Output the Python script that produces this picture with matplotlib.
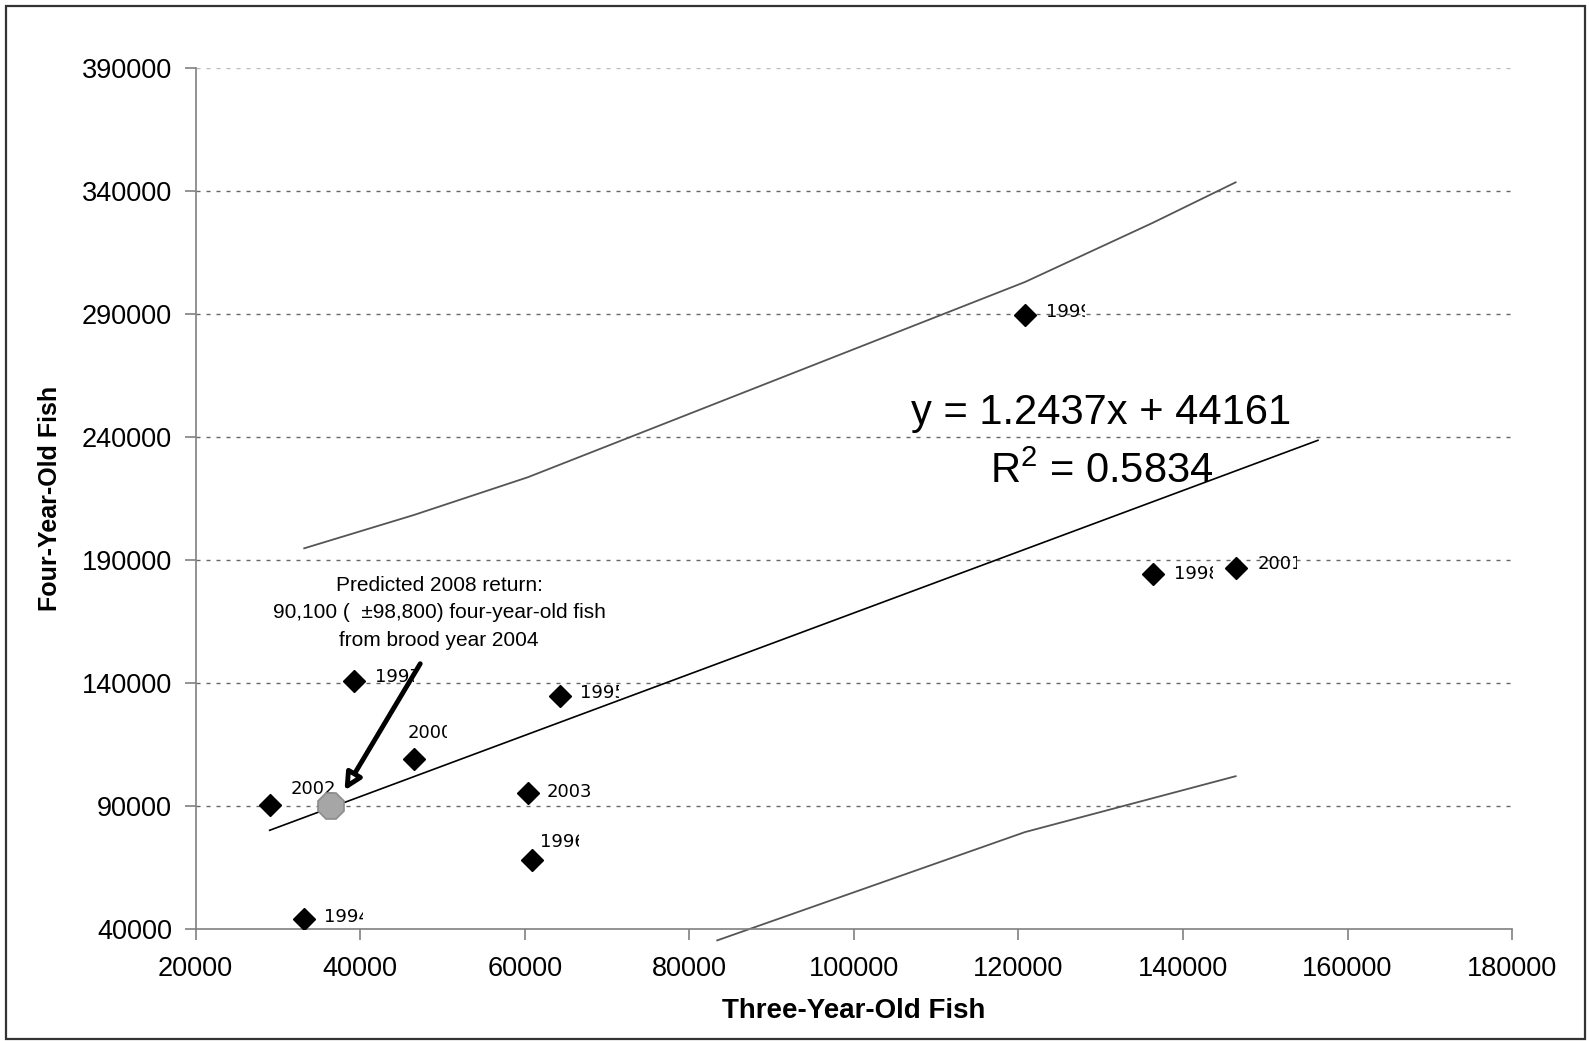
import matplotlib
matplotlib.use('Agg')
import matplotlib.pyplot as plt
from matplotlib.transforms import Bbox
from matplotlib.patches import Rectangle
import numpy as np

plt.rcParams['font.family'] = ['Liberation Sans', 'DejaVu Sans']
plt.rcParams['mathtext.fontset'] = 'custom'
plt.rcParams['mathtext.rm'] = 'Liberation Sans'

# return year, three-year-old fish, four-year-old fish
years = ['1994', '1995', '1996', '1997', '1998', '1999', '2000', '2001', '2002', '2003']
three_yr = [33200, 64300, 60900, 39200, 136300, 120800, 46500, 146400, 29000, 60400]
four_yr = [44100, 134700, 68000, 140900, 184500, 289500, 109200, 186600, 90700, 95200]

# fitted line
slope = 1.2437
intercept = 44161
r_squared = 0.5834

# prediction interval bounds
upper_x = [33200, 46500, 60400, 120800, 136300, 146400]
upper_y = [194800, 208300, 223700, 303000, 327000, 343500]
lower_x = [83400, 120800, 146400]
lower_y = [35500, 79500, 102200]

# 2008 forecast from brood year 2004
pred_x = 36500
pred_y = 90100
pred_err = 98800

x_ticks = [20000, 40000, 60000, 80000, 100000, 120000, 140000, 160000, 180000]
y_ticks = [40000, 90000, 140000, 190000, 240000, 290000, 340000, 390000]

# label offsets in pixels (dx, dy) and whether the label box cuts it off
label_off = [(20, 2), (20, 3), (8, 18), (21, 4), (21, 0), (21, 3),
             (-6, 26), (22, 4), (21, 16), (19, 1)]
label_cut = [True, True, True, True, True, True, True, True, False, False]

fig = plt.figure(figsize=(15.89, 10.41), dpi=100)
ax = fig.add_axes([0.1231, 0.1073, 0.8285, 0.8275])

# outer frame
fig.patches.append(Rectangle((5.5 / 1589, 2 / 1041), 1579.5 / 1589, 1033.5 / 1041,
                             transform=fig.transFigure, fill=False,
                             ec='#333333', lw=1.6))

ax.set_xlim(20000, 180000)
ax.set_ylim(40000, 390000)
ax.set_xticks(x_ticks)
ax.set_yticks(y_ticks)
ax.tick_params(axis='both', labelsize=19.5, color='#808080', length=8, width=1.2)
ax.tick_params(axis='y', pad=9)
ax.tick_params(axis='x', pad=11)
for s in ['top', 'right']:
    ax.spines[s].set_visible(False)
for s in ['left', 'bottom']:
    ax.spines[s].set_color('#808080')
    ax.spines[s].set_linewidth(1.2)

for yt in y_ticks[1:]:
    c = '#bbbbbb' if yt == y_ticks[-1] else '#666666'
    ax.axhline(yt, color=c, lw=1, ls=(0, (2.9, 4.3)), zorder=0)

ax.set_xlabel('Three-Year-Old Fish', fontsize=20, fontweight='bold', labelpad=12)
ax.set_ylabel('Four-Year-Old Fish', fontsize=18, fontweight='bold', labelpad=14)

# trend line over the data range plus 10000 forward
fit_x = np.array([min(three_yr), max(three_yr) + 10000])
ax.plot(fit_x, slope * fit_x + intercept, color='black', lw=1.2, zorder=2)

ax.plot(upper_x, upper_y, color='#555555', lw=1.3, zorder=2)
ax.plot(lower_x, lower_y, color='#555555', lw=1.3, zorder=2, clip_on=False)

ax.plot(three_yr, four_yr, ls='none', marker='D', ms=11, color='black', zorder=3)

fig.canvas.draw()
for i, yr in enumerate(years):
    dx, dy = label_off[i]
    t = ax.annotate(yr, (three_yr[i], four_yr[i]), xytext=(dx, dy),
                    textcoords='offset pixels', fontsize=13, family='DejaVu Sans',
                    ha='left', va='center', zorder=4)
    if label_cut[i]:
        px, py = ax.transData.transform((three_yr[i], four_yr[i]))
        bb = Bbox([[px + dx - 4, py + dy - 15], [px + dx + 39, py + dy + 15]])
        t.set_clip_box(bb)
        t.set_clip_on(True)

# forecast point and callout
ax.plot([pred_x], [pred_y], ls='none', marker='8', ms=20,
        mfc='#a6a6a6', mec='#8c8c8c', mew=1.2, zorder=5)
ax.annotate('', xy=(38100, 96400), xytext=(47300, 147900),
            arrowprops=dict(arrowstyle='-|>,head_length=1.0,head_width=0.5',
                            lw=3.5, fc='white', ec='black', shrinkA=0, shrinkB=0),
            zorder=6)
ax.text(49600, 168600,
        'Predicted 2008 return:\n'
        '{:,} (  \u00b1{:,}) four-year-old fish\n'
        'from brood year 2004'.format(pred_y, pred_err),
        ha='center', va='center', fontsize=15, linespacing=1.55,
        family=['Liberation Sans Narrow', 'Liberation Sans'], zorder=6)

ax.text(130100, 249600, 'y = {}x + {}'.format(slope, intercept),
        ha='center', va='center', fontsize=30)
ax.text(130100, 226000, r'R$^{\mathrm{2}}$ = ' + '{}'.format(r_squared),
        ha='center', va='center', fontsize=30)

fig.savefig('out.png', dpi=100)
